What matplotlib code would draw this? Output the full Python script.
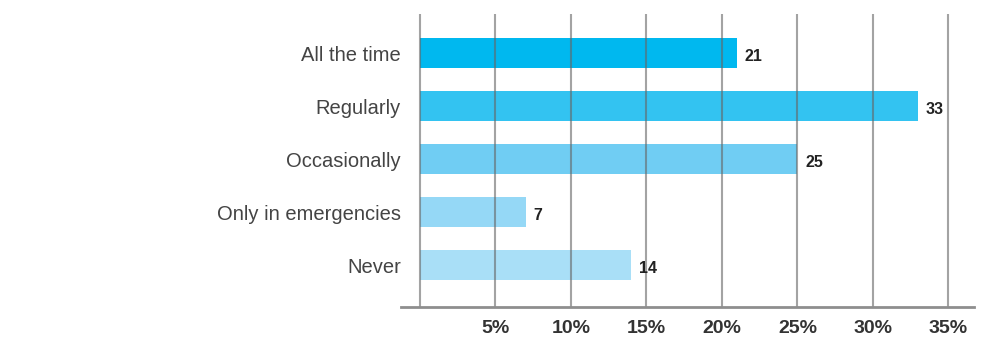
import matplotlib.pyplot as plt
import numpy as np

plt.rcParams['font.family'] = ['Liberation Sans', 'DejaVu Sans']

# ---------- Data ----------
categories = ["All the time", "Regularly", "Occasionally", "Only in emergencies", "Never"]
values = [21, 33, 25, 7, 14]  # percent of respondents
bar_colors = ["#00b8ef", "#33c3f1", "#70cdf3", "#95d8f6", "#a9dff7"]
tick_values = [5, 10, 15, 20, 25, 30, 35]
tick_labels = [str(t) + "%" for t in tick_values]

# ---------- Plotting ----------
fig = plt.figure(figsize=(9.95, 3.42), dpi=100)
ax = fig.add_axes([0.403, 0.1023, 0.576, 0.857])

y_pos = np.arange(len(categories))
ax.barh(y_pos, values, height=0.57, color=bar_colors, zorder=1)

# vertical grid lines sit on top of the bars
for g in [0] + tick_values:
    ax.axvline(g, color="#666666", alpha=0.6, lw=1.5, zorder=2)

# value labels next to each bar
for y, v in zip(y_pos, values):
    ax.text(v + 0.5, y + 0.07, str(v), ha="left", va="center",
            fontsize=11.5, fontweight="bold", color="#222222", zorder=3)

ax.set_xlim(-1.26, 36.7)
ax.set_ylim(len(categories) - 1 + 0.79, -0.74)

ax.set_yticks(y_pos)
ax.set_yticklabels(categories, fontsize=14.5, color="#444444")
ax.set_xticks(tick_values)
ax.set_xticklabels(tick_labels, fontsize=14, fontweight="bold", color="#333333")
ax.tick_params(axis="both", length=0)
ax.tick_params(axis="x", pad=9)
ax.tick_params(axis="y", pad=0)

for side in ["top", "right", "left"]:
    ax.spines[side].set_visible(False)
ax.spines["bottom"].set_color("#8e8e8e")
ax.spines["bottom"].set_linewidth(2)

fig.savefig("out.png", dpi=100)
